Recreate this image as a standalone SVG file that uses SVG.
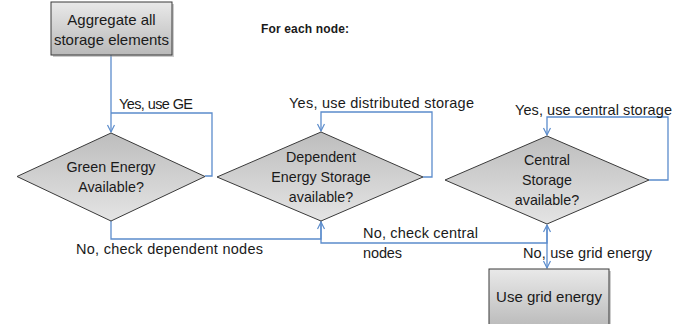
<svg xmlns="http://www.w3.org/2000/svg" width="694" height="324" viewBox="0 0 694 324">
<style>
.shape{stroke:#3a3a3a;stroke-width:1}
.txt{font-family:"Liberation Sans",Arial,sans-serif;fill:#1a1a1a}
.box{font-size:15px}
.dia{font-size:14.3px}
.lbl{font-size:14.5px}
.conn{fill:none;stroke:#5b8ccc;stroke-width:1.3}
</style>
<defs>
<linearGradient id="gBox" x1="0" y1="0" x2="0" y2="1">
<stop offset="0" stop-color="#e9e9e9"/>
<stop offset="1" stop-color="#b9b9b9"/>
</linearGradient>
<linearGradient id="gDia" x1="0" y1="0" x2="0" y2="1">
<stop offset="0" stop-color="#bdbdbd"/>
<stop offset="1" stop-color="#e4e4e4"/>
</linearGradient>
<marker id="arr" markerWidth="10" markerHeight="10" refX="8" refY="4" orient="auto" markerUnits="userSpaceOnUse">
<path d="M1,0.5 L8,4 L1,7.5" fill="none" stroke="#5b8ccc" stroke-width="1.2"/>
</marker>
</defs>
<rect width="694" height="324" fill="#ffffff"/>

<text class="txt" x="261" y="33" font-size="12" font-weight="bold" textLength="88">For each node:</text>

<g id="connectors">
<path class="conn" d="M111,55 V132" marker-end="url(#arr)"/>
<path class="conn" d="M205,176 H212 V113 H111"/>
<path class="conn" d="M111,221 V239 H321 V222" marker-end="url(#arr)"/>
<path class="conn" d="M423,177 H432 V112 H321 V131" marker-end="url(#arr)"/>
<path class="conn" d="M321,221 V243 H547 V225" marker-end="url(#arr)"/>
<path class="conn" d="M649,180 H668 V117 H547 V135" marker-end="url(#arr)"/>
<path class="conn" d="M547,225 V268" marker-end="url(#arr)"/>
<text class="txt lbl" x="119" y="109" textLength="74">Yes, use GE</text>
<text class="txt lbl" x="289" y="108" textLength="185">Yes, use distributed storage</text>
<text class="txt lbl" x="515" y="115" textLength="157">Yes, use central storage</text>
<text class="txt lbl" x="76" y="254" textLength="187">No, check dependent nodes</text>
<text class="txt lbl" x="363" y="238" textLength="115">No, check central</text>
<text class="txt lbl" x="363" y="258" textLength="39">nodes</text>
<text class="txt lbl" x="523" y="258" textLength="129">No, use grid energy</text>
</g>

<g id="aggregate">
<rect x="53" y="4" width="121" height="53" fill="#9a9a9a" opacity="0.5"/>
<rect class="shape" x="51" y="2" width="121" height="53" fill="url(#gBox)"/>
<text class="txt box" x="111.5" y="25" text-anchor="middle">Aggregate all</text>
<text class="txt box" x="111.5" y="45" text-anchor="middle">storage elements</text>
</g>

<g id="green">
<polygon class="shape" points="111,133 205,176.5 111,221 17,176.5" fill="url(#gDia)"/>
<text class="txt dia" x="111" y="172" text-anchor="middle">Green Energy</text>
<text class="txt dia" x="111" y="192" text-anchor="middle">Available?</text>
</g>

<g id="dependent">
<polygon class="shape" points="321,132 423,177 321,221 217,177" fill="url(#gDia)"/>
<text class="txt dia" x="321" y="162" text-anchor="middle">Dependent</text>
<text class="txt dia" x="321" y="182" text-anchor="middle">Energy Storage</text>
<text class="txt dia" x="321" y="202" text-anchor="middle">available?</text>
</g>

<g id="central">
<polygon class="shape" points="547,136 649,180 547,224 445,180" fill="url(#gDia)"/>
<text class="txt dia" x="547" y="165" text-anchor="middle">Central</text>
<text class="txt dia" x="547" y="185" text-anchor="middle">Storage</text>
<text class="txt dia" x="547" y="205" text-anchor="middle">available?</text>
</g>

<g id="grid">
<rect x="491" y="271" width="120" height="60" fill="#9a9a9a" opacity="0.5"/>
<rect class="shape" x="489" y="269" width="120" height="60" fill="url(#gBox)"/>
<text class="txt box" x="549" y="302" text-anchor="middle">Use grid energy</text>
</g>
</svg>
